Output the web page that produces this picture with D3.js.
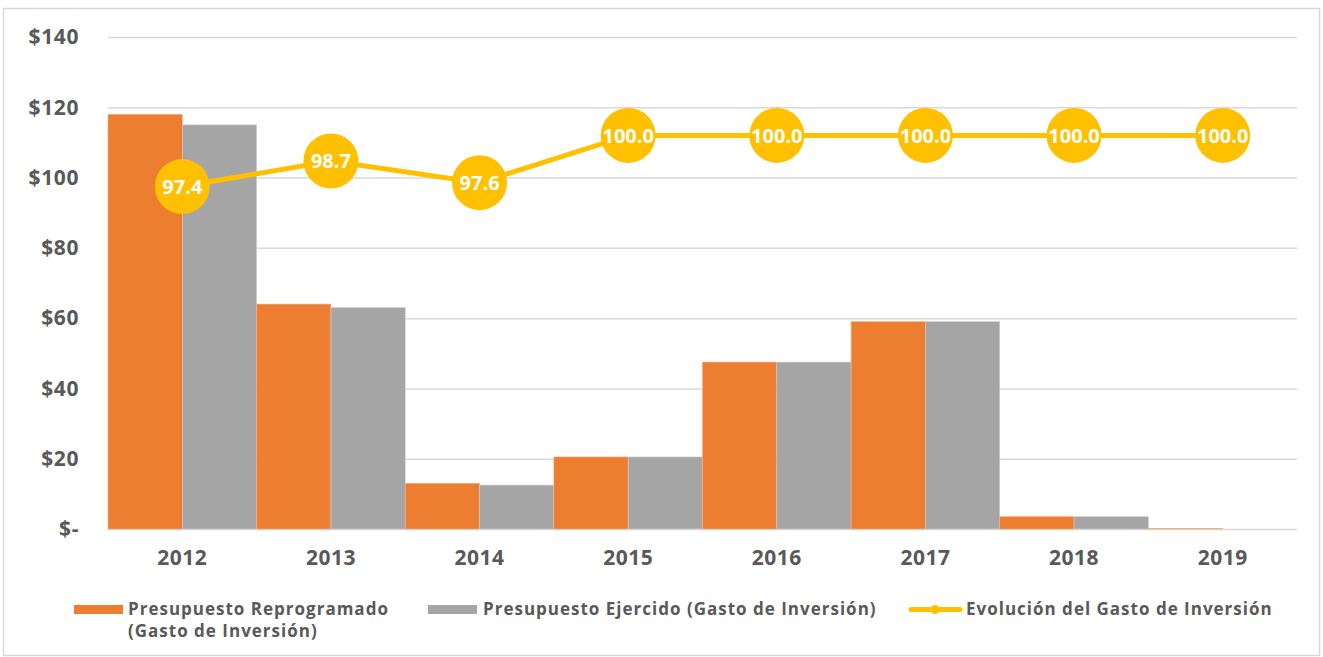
<!DOCTYPE html>
<html>
<head>
<meta charset="utf-8">
<script src="https://cdn.jsdelivr.net/npm/d3@7"></script>
<style>
  body { margin: 0; background: #fff; }
  svg text { font-family: "Open Sans", sans-serif; font-weight: 700; }
</style>
</head>
<body>
<svg id="chart"></svg>
<script>
const years = ['2012', '2013', '2014', '2015', '2016', '2017', '2018', '2019'];
const reprogramado = [118, 64, 13, 20.5, 47.5, 59, 3.5, 0.2];
const ejercido = [115, 63, 12.5, 20.5, 47.5, 59, 3.5, 0];
const evolucion = [97.4, 98.7, 97.6, 100.0, 100.0, 100.0, 100.0, 100.0];
const yTicks = [0, 20, 40, 60, 80, 100, 120, 140];

const width = 1323, height = 657;
const margin = { top: 37, right: 26, bottom: 128, left: 108 };
const innerW = width - margin.left - margin.right;
const innerH = height - margin.top - margin.bottom;

const orange = '#ED7D31', grey = '#A5A5A5', gold = '#FFC000', text = '#595959';

const svg = d3.select('#chart').attr('width', width).attr('height', height);

svg.append('rect')
  .attr('x', 3.5).attr('y', 8.5)
  .attr('width', width - 7).attr('height', height - 10)
  .attr('fill', 'none').attr('stroke', '#d9d9d9').attr('stroke-width', 1.5);

const chart = svg.append('g').attr('transform', `translate(${margin.left},${margin.top})`);

const x = d3.scaleBand().domain(years).range([0, innerW]).padding(0);
const sub = d3.scaleBand().domain(['r', 'e']).range([0, x.bandwidth()]).padding(0);
const y = d3.scaleLinear().domain([0, 140]).range([innerH, 0]);
// hidden secondary axis for the percentage line
const y2 = d3.scaleLinear().domain([80, 105]).range([innerH, 0]);

// grid + y axis
chart.append('g')
  .call(d3.axisLeft(y).tickValues(yTicks).tickSize(-innerW)
    .tickFormat(d => d === 0 ? '$-' : '$' + d))
  .call(g => g.select('.domain').remove())
  .call(g => g.selectAll('line').attr('stroke', '#d9d9d9').attr('stroke-width', 1.5))
  .call(g => g.selectAll('text').attr('x', -29).attr('fill', text)
    .style('font-size', '21px').style('letter-spacing', '0.6px'));

// bars
const groups = chart.selectAll('.yr').data(years).enter().append('g')
  .attr('transform', d => `translate(${x(d)},0)`);
groups.append('rect')
  .attr('x', sub('r')).attr('width', sub.bandwidth())
  .attr('y', (d, i) => y(reprogramado[i]))
  .attr('height', (d, i) => innerH - y(reprogramado[i]))
  .attr('fill', orange).attr('stroke', '#f4b183').attr('stroke-width', 0.6);
groups.append('rect')
  .attr('x', sub('e')).attr('width', sub.bandwidth())
  .attr('y', (d, i) => y(ejercido[i]))
  .attr('height', (d, i) => innerH - y(ejercido[i]))
  .attr('fill', grey).attr('stroke', '#d0d0d0').attr('stroke-width', 0.6);

// x axis labels
chart.append('g')
  .attr('transform', `translate(0,${innerH})`)
  .call(d3.axisBottom(x).tickSize(0).tickPadding(21))
  .call(g => g.select('.domain').remove())
  .call(g => g.selectAll('text').attr('fill', text)
    .style('font-size', '21px').style('letter-spacing', '0.5px'));

// line
const line = d3.line()
  .x((d, i) => x(years[i]) + x.bandwidth() / 2)
  .y(d => y2(d));
chart.append('path').datum(evolucion)
  .attr('d', line).attr('fill', 'none').attr('stroke', gold).attr('stroke-width', 5);

const pts = chart.selectAll('.pt').data(evolucion).enter().append('g')
  .attr('transform', (d, i) => `translate(${x(years[i]) + x.bandwidth() / 2},${y2(d)})`);
pts.append('circle').attr('r', 27.5).attr('fill', gold);
pts.append('text')
  .attr('text-anchor', 'middle').attr('dy', '0.36em')
  .attr('fill', '#fff').style('font-size', '20px')
  .text(d => d.toFixed(1));

// legend
const leg = svg.append('g').attr('fill', text);
const legText = (x0, y0, s) => leg.append('text').attr('x', x0).attr('y', y0)
  .style('font-size', '17px').style('letter-spacing', '1px').text(s);
leg.append('rect').attr('x', 74).attr('y', 605).attr('width', 49).attr('height', 9).attr('fill', orange);
legText(128, 615, 'Presupuesto Reprogramado');
legText(128, 637, '(Gasto de Inversión)');
leg.append('rect').attr('x', 428).attr('y', 605).attr('width', 49).attr('height', 9).attr('fill', grey);
legText(483, 615, 'Presupuesto Ejercido (Gasto de Inversión)');
leg.append('line').attr('x1', 911).attr('x2', 960).attr('y1', 609.5).attr('y2', 609.5)
  .attr('stroke', gold).attr('stroke-width', 5).attr('stroke-linecap', 'round');
leg.append('circle').attr('cx', 935).attr('cy', 609.5).attr('r', 4.5).attr('fill', gold);
legText(966, 615, 'Evolución del Gasto de Inversión');
</script>
</body>
</html>
